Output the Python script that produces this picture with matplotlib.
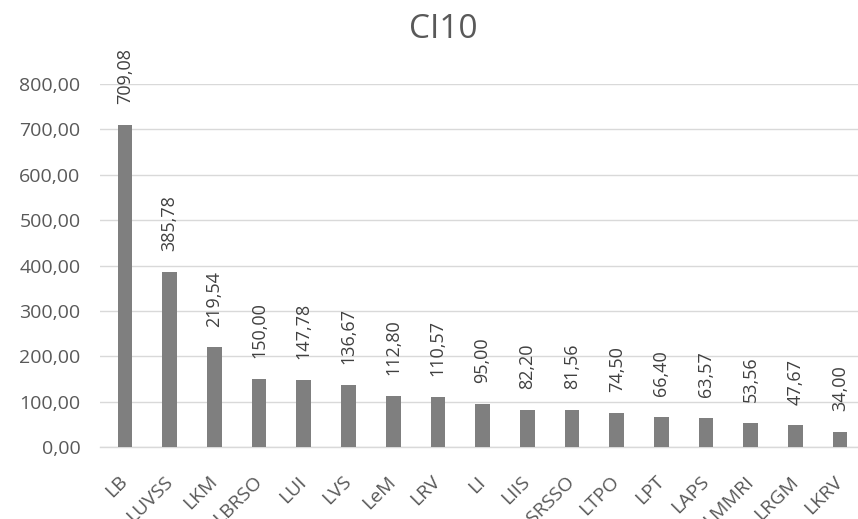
import matplotlib
matplotlib.use("Agg")
import matplotlib.pyplot as plt

categories = ["LB", "LUVSS", "LKM", "LBRSO", "LUI", "LVS", "LeM", "LRV", "LI",
              "LIIS", "LSRSSO", "LTPO", "LPT", "LAPS", "LMMRI", "LRGM", "LKRV"]
values = [709.08, 385.78, 219.54, 150.00, 147.78, 136.67, 112.80, 110.57, 95.00,
          82.20, 81.56, 74.50, 66.40, 63.57, 53.56, 47.67, 34.00]
yticks = [0, 100, 200, 300, 400, 500, 600, 700, 800]
title = "CI10"

def fmt(v):
    return f"{v:.2f}".replace(".", ",")

plt.rcParams['font.family'] = ['Open Sans', 'DejaVu Sans']

W, H = 858, 519
fig = plt.figure(figsize=(W / 100, H / 100), dpi=100)
left, right = 100 / W, 1.0
bottom, top = (H - 447) / H, (H - 84) / H
ax = fig.add_axes([left, bottom, right - left, top - bottom])

x = list(range(len(categories)))
ax.bar(x, values, width=0.33, color="#7f7f7f", zorder=3)

ax.set_xlim(-0.56, 16.4)
ax.set_ylim(0, 800)
ax.set_yticks(yticks)
ax.set_yticklabels([fmt(v) for v in yticks], fontsize=14, color="#595959")
ax.tick_params(axis="y", length=0, pad=14)
ax.grid(axis="y", color="#d9d9d9", linewidth=1, zorder=0)
for s in ["top", "right", "left"]:
    ax.spines[s].set_visible(False)
ax.spines["bottom"].set_color("#d9d9d9")
ax.spines["bottom"].set_linewidth(1)

ax.set_xticks(x)
ax.set_xticklabels(categories, rotation=45, ha="right", va="center",
                   rotation_mode="anchor", fontsize=14, color="#595959")
ax.tick_params(axis="x", length=0, pad=23)

for xi, v in zip(x, values):
    ax.annotate(fmt(v), (xi, v), xytext=(0, 15), textcoords="offset points",
                rotation=90, ha="center", va="bottom", fontsize=13,
                color="#404040", annotation_clip=False)

fig.text(443 / W, 1 - 30 / H, title, ha="center", va="center",
         fontsize=24, color="#595959")

fig.savefig("out.png", dpi=100)
